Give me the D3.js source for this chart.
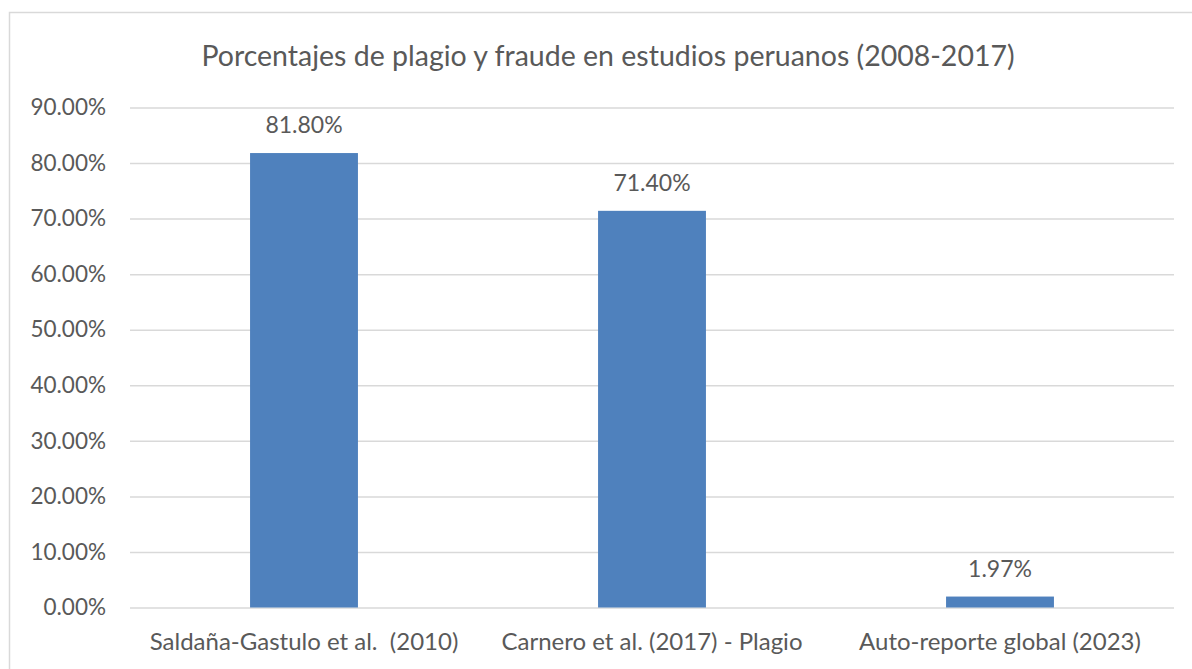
<!DOCTYPE html>
<html>
<head>
<meta charset="utf-8">
<script src="https://cdn.jsdelivr.net/npm/d3@7"></script>
<style>
  body { margin: 0; background: #fff; }
  text { font-family: Lato, "Open Sans", sans-serif; fill: #595959; white-space: pre; }
</style>
</head>
<body>
<svg></svg>
<script>
const width = 1192;
const height = 669;

const categories = ['Saldaña-Gastulo et al.  (2010)', 'Carnero et al. (2017) - Plagio', 'Auto-reporte global (2023)'];
const values = [81.8, 71.4, 1.97];
const valueLabels = ['81.80%', '71.40%', '1.97%'];
const yTicks = [0, 10, 20, 30, 40, 50, 60, 70, 80, 90];

const plot = { left: 130, right: 1174, top: 107.5, bottom: 607.5 };

const svg = d3.select('svg')
  .attr('width', width)
  .attr('height', height);

// chart border
svg.append('rect')
  .attr('x', 9.5)
  .attr('y', 12.5)
  .attr('width', width + 20)
  .attr('height', height + 20)
  .attr('fill', 'none')
  .attr('stroke', '#d9d9d9')
  .attr('stroke-width', 1.5);

const xScale = d3.scaleBand()
  .domain(categories)
  .range([plot.left, plot.right])
  .paddingInner(0.69)
  .paddingOuter(0.345);

const yScale = d3.scaleLinear()
  .domain([0, 90])
  .range([plot.bottom, plot.top]);

// ====================================
// Gridlines + Y axis
// ====================================
const yAxis = d3.axisLeft(yScale)
  .tickValues(yTicks)
  .tickSize(-(plot.right - plot.left))
  .tickPadding(24)
  .tickFormat(d => d.toFixed(2) + '%');

const gy = svg.append('g')
  .attr('transform', `translate(${plot.left}, 0)`)
  .call(yAxis);
gy.select('.domain').remove();
gy.selectAll('line').attr('stroke', '#d9d9d9').attr('stroke-width', 1.5);
gy.selectAll('text').attr('font-size', '22.5px').attr('fill', '#595959');

// ====================================
// X axis
// ====================================
const xAxis = d3.axisBottom(xScale).tickSize(0).tickPadding(25);
const gx = svg.append('g')
  .attr('transform', `translate(0, ${plot.bottom})`)
  .call(xAxis);
gx.select('.domain').remove();
gx.selectAll('text').attr('font-size', '24px').attr('fill', '#595959');

// ====================================
// Bars
// ====================================
svg.selectAll('rect.bar')
  .data(values)
  .enter()
  .append('rect')
  .attr('class', 'bar')
  .attr('x', (d, i) => xScale(categories[i]))
  .attr('y', d => yScale(d))
  .attr('width', xScale.bandwidth())
  .attr('height', d => plot.bottom - yScale(d))
  .attr('fill', '#4f81bd');

svg.selectAll('text.val')
  .data(values)
  .enter()
  .append('text')
  .attr('class', 'val')
  .attr('x', (d, i) => xScale(categories[i]) + xScale.bandwidth() / 2)
  .attr('y', d => yScale(d) - 20)
  .attr('text-anchor', 'middle')
  .attr('font-size', '23px')
  .text((d, i) => valueLabels[i]);

// ====================================
// Title
// ====================================
svg.append('text')
  .text('Porcentajes de plagio y fraude en estudios peruanos (2008-2017)')
  .attr('x', 608)
  .attr('y', 66)
  .attr('text-anchor', 'middle')
  .attr('font-size', '28.5px');
</script>
</body>
</html>
